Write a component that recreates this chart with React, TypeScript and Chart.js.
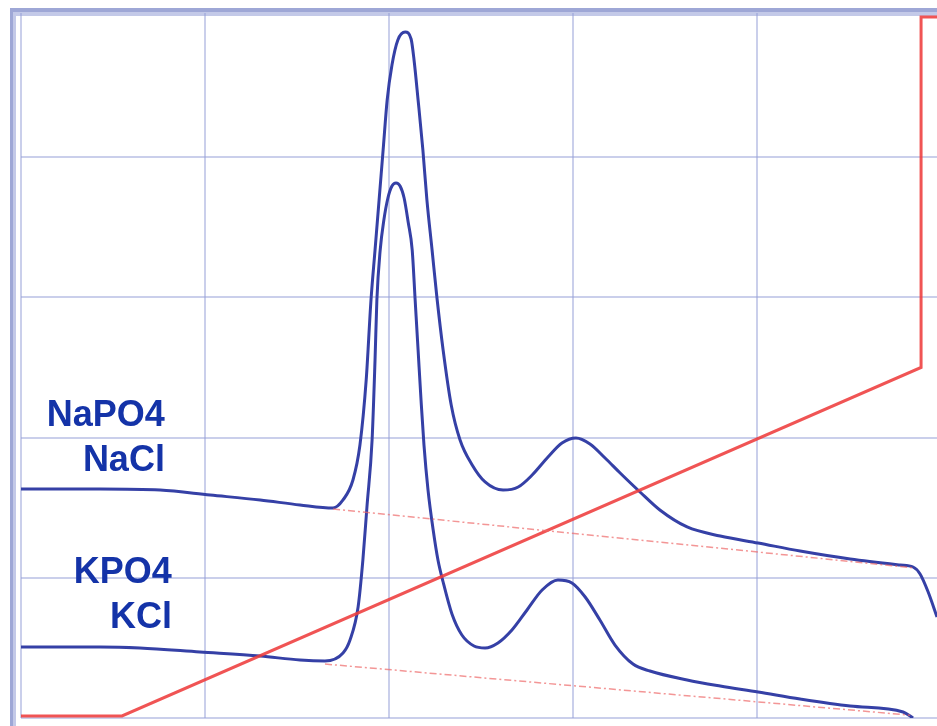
import { useEffect, useRef } from "react";
import { Chart, registerables } from "chart.js";

Chart.register(...registerables);

// Sodium phosphate / NaCl elution trace (time in min, detector signal)
const naTime = [0, 2.15, 3.78, 5.14, 6.5, 7.58, 8.48, 8.75, 9.02, 9.21, 9.38, 9.51, 9.62, 9.73, 9.84, 9.95, 10.08, 10.24, 10.44, 10.6, 10.68, 10.79, 10.92, 11.03, 11.17, 11.3, 11.47, 11.69, 11.93, 12.26, 12.61, 13.1, 13.51, 13.89, 14.32, 14.7, 15.08, 15.46, 15.87, 16.28, 16.82, 17.36, 18.1, 19.0, 20.03, 21.17, 22.53, 23.89, 24.24, 24.43, 24.65, 24.89];
const naSignal = [32.67, 32.67, 32.52, 31.81, 31.1, 30.39, 29.96, 31.1, 33.95, 38.94, 48.22, 59.63, 66.76, 73.89, 81.03, 88.16, 93.15, 96.72, 97.86, 96.86, 93.87, 88.16, 81.03, 73.89, 66.76, 60.06, 52.5, 44.65, 39.66, 36.09, 33.67, 32.52, 32.95, 34.66, 37.23, 39.23, 39.94, 39.09, 37.09, 34.95, 32.24, 29.67, 27.25, 25.96, 24.96, 23.82, 22.68, 21.83, 21.54, 20.54, 17.97, 14.41];

// Potassium phosphate / KCl elution trace
const kTime = [0, 2.15, 3.23, 4.86, 6.5, 7.58, 8.26, 8.75, 8.94, 9.16, 9.29, 9.4, 9.54, 9.62, 9.67, 9.76, 9.86, 9.97, 10.08, 10.19, 10.3, 10.41, 10.52, 10.63, 10.71, 10.79, 10.87, 10.95, 11.06, 11.2, 11.33, 11.47, 11.71, 11.98, 12.31, 12.61, 12.96, 13.34, 13.75, 14.16, 14.59, 14.97, 15.33, 15.73, 16.14, 16.63, 17.09, 18.1, 19.0, 20.03, 21.17, 22.53, 23.97, 24.24];
const kSignal = [10.13, 10.13, 9.99, 9.42, 8.84, 8.27, 8.13, 9.27, 11.13, 15.83, 22.54, 30.1, 39.66, 51.07, 59.63, 66.76, 71.04, 74.18, 75.89, 76.32, 75.89, 74.18, 70.76, 66.76, 59.63, 52.5, 45.36, 38.94, 32.52, 26.82, 22.54, 19.4, 14.84, 11.84, 10.27, 9.99, 10.7, 12.55, 15.41, 18.26, 19.69, 19.26, 17.26, 13.98, 10.41, 7.7, 6.7, 5.42, 4.56, 3.71, 2.71, 1.71, 0.86, 0];

// Integration baselines under each trace
const naBaseTime = [8.48, 24.29];
const naBaseSignal = [29.81, 21.4];
const kBaseTime = [8.26, 24.16];
const kBaseSignal = [7.7, 0.4];

// Salt gradient (%B)
const gradTime = [0, 2.745, 24.457, 24.457, 24.89];
const gradPercent = [0.3, 0.3, 50, 100, 100];

const timeTicks = [0, 5, 10, 15, 20];
const signalTicks = [0, 20, 40, 60, 80];

const naLabels = ["NaPO4", "NaCl"];
const kLabels = ["KPO4", "KCl"];

const zip = (xs: number[], ys: number[]) => xs.map((x, i) => ({ x, y: ys[i] }));

const TRACE = "#3540a6";
const TEXT = "#1433a8";

const framePlugin = {
  id: "frame",
  beforeDraw(chart: any) {
    const { ctx, width, height } = chart;
    ctx.save();
    ctx.fillStyle = "#ffffff";
    ctx.fillRect(0, 0, width, height);
    // outer frame bands on the left and top
    ctx.fillStyle = "#c3c9e8";
    ctx.fillRect(10, 8, 6, height - 8);
    ctx.fillRect(10, 8, width - 10, 8);
    ctx.fillStyle = "#9ea7d6";
    ctx.fillRect(10, 8, 3, height - 8);
    ctx.fillRect(10, 8, width - 10, 4);
    ctx.restore();
  },
};

const labelPlugin = {
  id: "bufferLabels",
  afterDraw(chart: any) {
    const { ctx, scales } = chart;
    const xs = scales.x;
    const ys = scales.y;
    ctx.save();
    ctx.fillStyle = TEXT;
    ctx.font = "bold 36px 'Liberation Sans', Arial, sans-serif";
    ctx.textAlign = "right";
    ctx.textBaseline = "alphabetic";
    const groups = [
      { lines: naLabels, x: 3.91, y: 41.65 },
      { lines: kLabels, x: 4.1, y: 19.26 },
    ];
    groups.forEach((g) => {
      const px = xs.getPixelForValue(g.x);
      const py = ys.getPixelForValue(g.y);
      g.lines.forEach((t, i) => ctx.fillText(t, px, py + i * 45));
    });
    ctx.restore();
  },
};

export default function App() {
  const ref = useRef<HTMLCanvasElement | null>(null);

  useEffect(() => {
    if (!ref.current) return;
    const traceStyle = {
      borderColor: TRACE,
      borderWidth: 3,
      pointRadius: 0,
      cubicInterpolationMode: "monotone" as const,
      fill: false,
    };
    const baseStyle = {
      borderColor: "rgba(238,105,105,0.7)",
      borderWidth: 1.5,
      borderDash: [7, 3, 2, 3],
      pointRadius: 0,
    };
    const chart = new Chart(ref.current, {
      type: "line",
      data: {
        datasets: [
          { label: "NaCl baseline", data: zip(naBaseTime, naBaseSignal), ...baseStyle },
          { label: "KCl baseline", data: zip(kBaseTime, kBaseSignal), ...baseStyle },
          {
            label: "Gradient",
            data: zip(gradTime, gradPercent),
            borderColor: "rgba(238,60,60,0.88)",
            borderWidth: 3,
            pointRadius: 0,
            tension: 0,
          },
          { label: "NaPO4 / NaCl", data: zip(naTime, naSignal), ...traceStyle },
          { label: "KPO4 / KCl", data: zip(kTime, kSignal), ...traceStyle },
        ],
      },
      options: {
        animation: false,
        responsive: false,
        layout: { padding: { left: 21, top: 13, right: 0, bottom: 8 } },
        plugins: { legend: { display: false }, tooltip: { enabled: false } },
        scales: {
          x: {
            type: "linear",
            min: 0,
            max: 24.89,
            afterBuildTicks: (s: any) => {
              s.ticks = timeTicks.map((v) => ({ value: v }));
            },
            ticks: { display: false },
            grid: { color: "rgba(150,160,215,0.5)", lineWidth: 2, drawTicks: false },
            border: { display: false },
          },
          y: {
            type: "linear",
            min: 0,
            max: 100.57,
            afterBuildTicks: (s: any) => {
              s.ticks = signalTicks.map((v) => ({ value: v }));
            },
            ticks: { display: false },
            grid: { color: "rgba(150,160,215,0.5)", lineWidth: 2, drawTicks: false },
            border: { display: false },
          },
        },
      },
      plugins: [framePlugin, labelPlugin],
    });
    return () => chart.destroy();
  }, []);

  return (
    <div style={{ position: "fixed", left: 0, top: 0, width: 937, height: 726, background: "#fff" }}>
      <canvas ref={ref} width={937} height={726} style={{ display: "block" }} />
    </div>
  );
}
